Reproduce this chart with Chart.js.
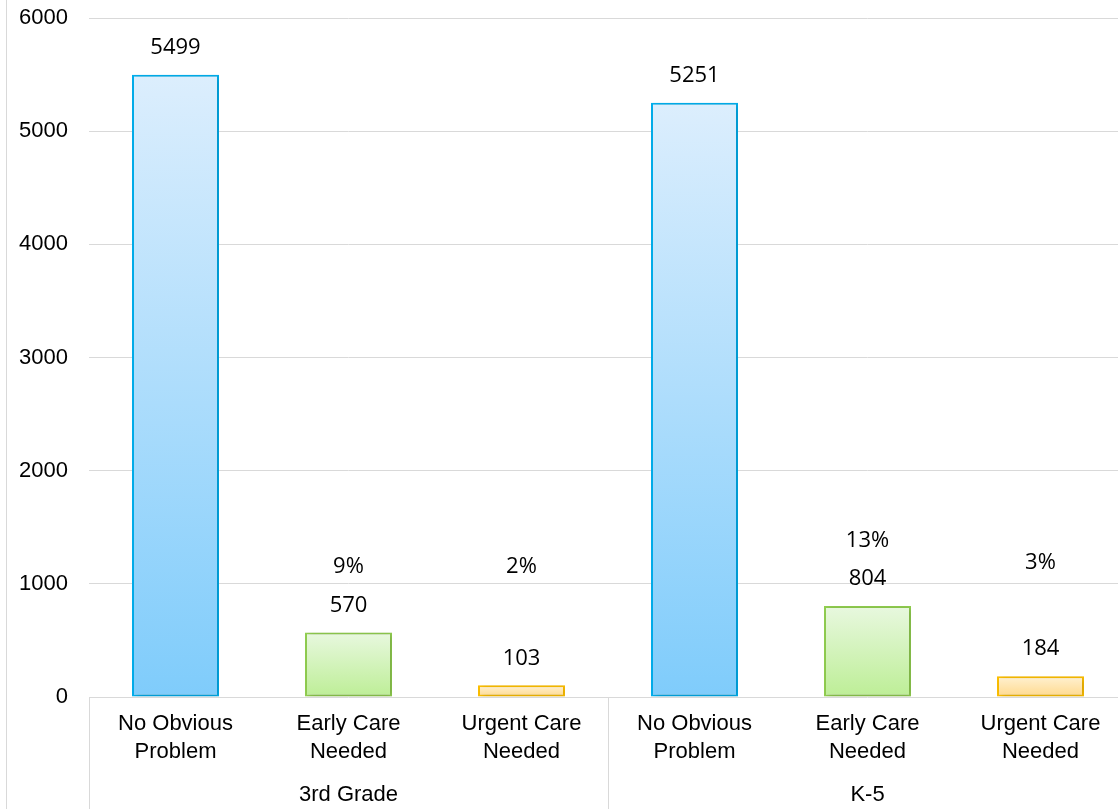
<!DOCTYPE html>
<html>
<head>
<meta charset="utf-8">
<script src="https://cdn.jsdelivr.net/npm/chart.js@4/dist/chart.umd.min.js"></script>
<style>
  html, body { margin: 0; padding: 0; background: #fff; overflow: hidden; }
  #wrap { position: relative; width: 1127px; height: 809px; }
  #edge { position: absolute; left: 6px; top: 0; width: 1px; height: 809px; background: #d9d9d9; }
</style>
</head>
<body>
<div id="wrap">
  <canvas id="careChart"></canvas>
  <div id="edge"></div>
</div>
<script>
// Chart data
const categories = [
  ["No Obvious", "Problem"], ["Early Care", "Needed"], ["Urgent Care", "Needed"],
  ["No Obvious", "Problem"], ["Early Care", "Needed"], ["Urgent Care", "Needed"],
];
const groups = ["3rd Grade", "K-5"];
const counts = [5499, 570, 103, 5251, 804, 184];
const percentLabels = ["", "9%", "2%", "", "13%", "3%"];
// hidden series that carries the percent labels
const percentAnchor = [null, 1150, 1150, null, 1380, 1190];
const yMax = 6000;
const yStep = 1000;

// fill gradients (top, bottom) and borders per care level
const fills = [
  ["#dceefd", "#7fccfb"],
  ["#e8f8df", "#bdee96"],
  ["#fff1d2", "#ffd98c"],
];
const borders = ["#00b0f0", "#92d050", "#ffc000"];

const tickFont = { family: "'Liberation Sans', Arial, sans-serif", size: 22 };
const labelFont = "22px 'Open Sans', sans-serif";

function barFill(c) {
  const chart = c.chart;
  const pair = fills[c.dataIndex % 3];
  if (!chart.chartArea || !chart.scales.y) return pair[1];
  const y = chart.scales.y;
  const top = y.getPixelForValue(c.raw);
  const base = y.getPixelForValue(0);
  if (!isFinite(top) || !isFinite(base) || top === base) return pair[1];
  const g = chart.ctx.createLinearGradient(0, top, 0, base);
  g.addColorStop(0, pair[0]);
  g.addColorStop(1, pair[1]);
  return g;
}

// soft shadow under the bars
const barShadow = {
  id: "barShadow",
  beforeDatasetDraw(chart, args) {
    if (args.index !== 0) return;
    const ctx = chart.ctx;
    ctx.save();
    ctx.shadowColor = "rgba(0,0,0,0.2)";
    ctx.shadowBlur = 6;
    ctx.shadowOffsetX = 2;
    ctx.shadowOffsetY = 1;
  },
  afterDatasetDraw(chart, args) {
    if (args.index !== 0) return;
    chart.ctx.restore();
  },
};

// value labels, percent labels, group labels and separators
const labelsPlugin = {
  id: "labelsPlugin",
  afterDatasetsDraw(chart) {
    const ctx = chart.ctx;
    const x = chart.scales.x;
    const area = chart.chartArea;
    ctx.save();
    ctx.fillStyle = "#000";
    ctx.font = labelFont;
    ctx.textAlign = "center";
    ctx.textBaseline = "middle";
    chart.getDatasetMeta(0).data.forEach((bar, i) => {
      ctx.fillText(String(counts[i]), bar.x, bar.y - 27);
    });
    chart.getDatasetMeta(1).data.forEach((pt, i) => {
      if (percentAnchor[i] == null) return;
      ctx.fillText(percentLabels[i], pt.x, pt.y);
    });

    // group separators and labels
    const bottom = chart.height;
    ctx.strokeStyle = "#d9d9d9";
    ctx.lineWidth = 1;
    const half = (x.getPixelForValue(1) - x.getPixelForValue(0)) / 2;
    ctx.font = "22px " + tickFont.family;
    groups.forEach((g, gi) => {
      const first = gi * 3;
      const left = x.getPixelForValue(first) - half;
      const right = x.getPixelForValue(first + 2) + half;
      [left, right].forEach(px => {
        ctx.beginPath();
        ctx.moveTo(Math.round(px) + 0.5, area.bottom);
        ctx.lineTo(Math.round(px) + 0.5, bottom);
        ctx.stroke();
      });
      ctx.fillText(g, (left + right) / 2, 795);
    });
    ctx.restore();
  },
};

new Chart(document.getElementById("careChart"), {
  type: "bar",
  data: {
    labels: categories,
    datasets: [
      {
        data: counts,
        backgroundColor: barFill,
        borderColor: counts.map((_, i) => borders[i % 3]),
        borderWidth: 2,
        borderSkipped: false,
        categoryPercentage: 1,
        barPercentage: 0.503,
      },
      {
        type: "line",
        data: percentAnchor,
        showLine: false,
        pointRadius: 0,
        pointHoverRadius: 0,
      },
    ],
  },
  options: {
    responsive: true,
    maintainAspectRatio: false,
    animation: false,
    layout: { padding: { top: 18, right: 0, left: 0, bottom: 0 } },
    plugins: {
      legend: { display: false },
      tooltip: { enabled: false },
    },
    scales: {
      x: {
        grid: { display: false, drawTicks: false },
        border: { display: false },
        ticks: { font: { ...tickFont, lineHeight: 1.27 }, color: "#000", padding: 13, maxRotation: 0, autoSkip: false },
        afterFit(scale) {
          scale.height = 112;
          scale.paddingLeft = 0;
          scale.paddingRight = 0;
        },
      },
      y: {
        min: 0,
        max: yMax,
        ticks: { stepSize: yStep, font: tickFont, color: "#000", padding: 21, callback: v => String(v) },
        grid: { color: "#d9d9d9", lineWidth: 1, drawTicks: false },
        border: { display: false },
        afterFit(scale) {
          scale.width = 89;
          scale.paddingTop = 0;
          scale.paddingBottom = 0;
        },
      },
    },
  },
  plugins: [barShadow, labelsPlugin],
});
</script>
</body>
</html>
